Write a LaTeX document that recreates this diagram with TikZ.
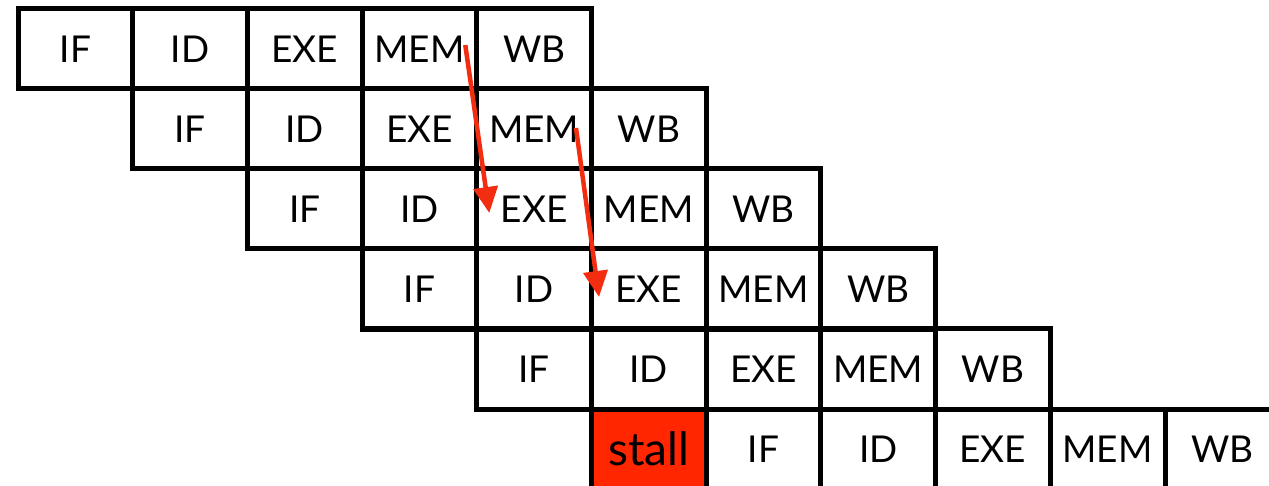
\documentclass[tikz,border=0pt]{standalone}
\usepackage{fontspec}
\setmainfont{Lato}
\usetikzlibrary{calc,arrows.meta}
\definecolor{stallred}{RGB}{255,38,0}
\definecolor{arrowred}{RGB}{243,45,15}
\begin{document}
\begin{tikzpicture}[x=1pt,y=-1pt,
  cell/.style={draw, line width=5pt, minimum width=114.7pt, minimum height=80pt,
    inner sep=0pt, font=\fontsize{37}{37}\selectfont},
  stallcell/.style={cell, fill=stallred, font=\fontsize{46}{46}\selectfont},
  fwd/.style={draw=arrowred, line width=4.5pt, -{Triangle[length=26pt,width=24pt]}}]
\useasboundingbox (0,0) rectangle (1269,486);
% five staggered instructions
\foreach \r in {0,...,4} {
  \foreach \s [count=\k from 0] in {IF,ID,EXE,MEM,WB} {
    \pgfmathsetmacro\c{\r+\k}
    \node[cell] (s\r-\k) at ({18+114.7*(\c+0.5)},{9+80*(\r+0.5)}) {\s};
  }
}
% sixth instruction, delayed by one stall cycle
\node[stallcell] (s5-stall) at ({18+114.7*5.5},{9+80*5.5}) {stall};
\foreach \s [count=\k from 0] in {IF,ID,EXE,MEM,WB} {
  \pgfmathsetmacro\c{6+\k}
  \node[cell] (s5-\k) at ({18+114.7*(\c+0.5)},{9+80*5.5}) {\s};
}
% forwarding paths
\draw[fwd] ($(s0-3.east)+(-14,-4)$) -- ($(s2-2.west)+(15,4)$);
\draw[fwd] ($(s1-3.east)+(-18,-1)$) -- ($(s3-2.west)+(10,8)$);
\end{tikzpicture}
\end{document}
